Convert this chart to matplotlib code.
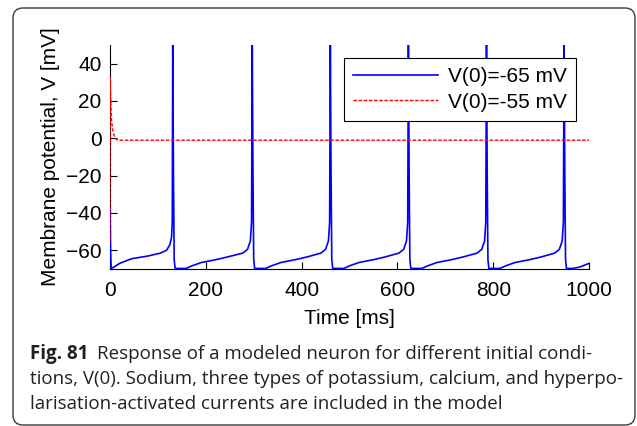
import numpy as np
import matplotlib
matplotlib.use("Agg")
import matplotlib.pyplot as plt
from matplotlib.patches import FancyBboxPatch

# ------------------------------------------------------------
# Werte (Zeit in ms, Spannung in mV)
# ------------------------------------------------------------
t_blue = [0, 0.4, 1.2, 2.5, 8, 20, 45, 80, 105, 118, 125, 128.5, 130,
          131, 132.5, 134, 136, 159, 171, 191, 221, 246, 277, 287, 293, 295.5,
          297, 298.5, 300, 302, 325, 337, 357, 387, 412, 440, 450, 456, 458.5,
          460, 461.5, 463, 465, 488, 500, 520, 550, 575, 603, 613, 619, 621.5,
          623, 624.5, 626, 628, 651, 663, 683, 713, 738, 766, 776, 782, 784.5,
          786, 787.5, 789, 791, 814, 826, 846, 876, 901, 928, 938, 944, 946.5,
          948, 949.5, 951, 953, 966, 980, 1000]
v_blue = [-65, -37, -60, -69.7, -69, -67, -64.5, -63, -61.5, -60, -57, -53, -45,
          50, -20, -65, -69.7, -69.7, -68.3, -66.5, -65, -63.5, -61.5, -59.5, -55, -45,
          50, -20, -65, -69.7, -69.7, -68.3, -66.5, -65, -63.5, -61.5, -59.5, -55, -45,
          50, -20, -65, -69.7, -69.7, -68.3, -66.5, -65, -63.5, -61.5, -59.5, -55, -45,
          50, -20, -65, -69.7, -69.7, -68.3, -66.5, -65, -63.5, -61.5, -59.5, -55, -45,
          50, -20, -65, -69.7, -69.7, -68.3, -66.5, -65, -63.5, -61.5, -59.5, -55, -45,
          50, -20, -65, -69.7, -69.7, -69, -67]

t_red = [0, 0.5, 1.5, 3, 5, 7, 10, 14, 20, 1000]
v_red = [-55, 33, 20, 10, 6, 3, 0.5, -0.7, -1, -1]

labels = ["V(0)=-65 mV", "V(0)=-55 mV"]
x_ticks = [0, 200, 400, 600, 800, 1000]
y_ticks = [-60, -40, -20, 0, 20, 40]

caption_bold = "Fig. 81"
caption_lines = [
    "Response of a modeled neuron for different initial condi-",
    "tions, V(0). Sodium, three types of potassium, calcium, and hyperpo-",
    "larisation-activated currents are included in the model",
]

# ------------------------------------------------------------
fig = plt.figure(figsize=(6.37, 4.26), dpi=100)
plt.rcParams['font.family'] = ['Liberation Sans', 'DejaVu Sans']

ax = fig.add_axes([110 / 637, 1 - 269 / 426, 479 / 637, 224 / 426])
ax.plot(t_blue, v_blue, color='#0000ff', lw=1.2, label=labels[0], zorder=3)
ax.plot(t_red, v_red, color='#ff0000', lw=1.0, ls=(0, (2.5, 1.2)),
        label=labels[1], zorder=3.1)

ax.set_xlim(0, 1000)
ax.set_ylim(-70, 50)
ax.set_xticks(x_ticks)
ax.set_yticks(y_ticks)
ax.tick_params(direction='in', length=5, width=0.8, labelsize=15)
ax.tick_params(axis='x', pad=9)
ax.tick_params(axis='y', pad=6)
ax.spines['top'].set_visible(False)
ax.spines['right'].set_visible(False)
ax.set_xlabel('Time [ms]', fontsize=15, labelpad=6)
ax.set_ylabel('Membrane potential, V [mV]', fontsize=15, labelpad=4)

leg = ax.legend(loc='upper right', bbox_to_anchor=(0.973, 0.942), fontsize=15,
                handlelength=4.1, fancybox=False, framealpha=1,
                edgecolor='black', borderpad=0.45, labelspacing=0.3,
                handletextpad=0.45, borderaxespad=0)
leg.get_frame().set_linewidth(0.8)

# abgerundeter Rahmen um Abbildung und Legende
box = FancyBboxPatch((0.13, 0.01), 6.22, 4.17,
                     boxstyle='round,pad=0,rounding_size=0.1',
                     transform=fig.dpi_scale_trans, fill=False,
                     edgecolor='#3a3a3a', lw=1.0)
fig.add_artist(box)

cap_font = ['Open Sans', 'DejaVu Sans']
cap_size = 13.5
cap_color = '#231f20'
x0 = 30 / 637
tb = fig.text(x0, 1 - 359 / 426, caption_bold, fontsize=cap_size, fontweight='bold',
              family=cap_font, color=cap_color)
fig.canvas.draw()
bb = tb.get_window_extent()
x1 = (bb.x1 + 9) / fig.bbox.width
fig.text(x1, 1 - 359 / 426, caption_lines[0], fontsize=cap_size,
         family=cap_font, color=cap_color)
fig.text(x0, 1 - 384 / 426, caption_lines[1], fontsize=cap_size,
         family=cap_font, color=cap_color)
fig.text(x0, 1 - 409 / 426, caption_lines[2], fontsize=cap_size,
         family=cap_font, color=cap_color)

fig.savefig('out.png', dpi=100)
